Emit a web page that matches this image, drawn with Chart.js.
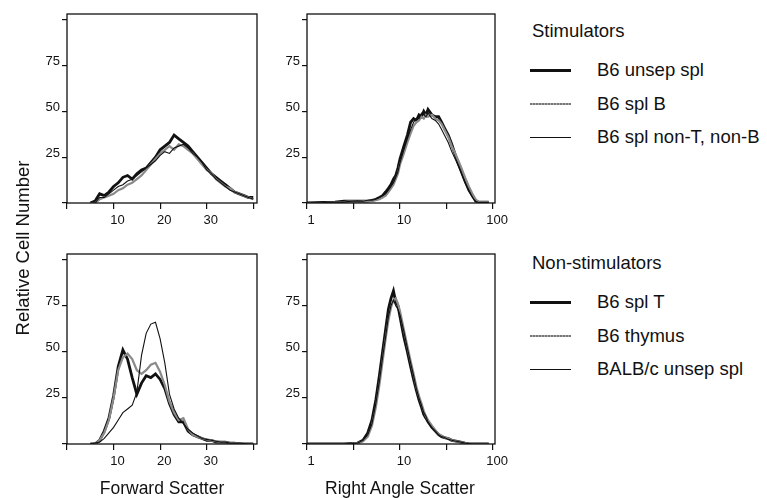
<!DOCTYPE html>
<html>
<head>
<meta charset="utf-8">
<title>Forward and right angle scatter</title>
<script src="https://cdn.jsdelivr.net/npm/chart.js@4.4.1/dist/chart.umd.min.js"></script>
<style>
  body { margin: 0; background: #fff; width: 767px; height: 498px; position: relative; overflow: hidden;
         font-family: "Liberation Sans", Arial, sans-serif; color: #111; }
  canvas { position: absolute; }
  .txt { position: absolute; white-space: nowrap; font-size: 17.5px; line-height: 20px; }
  .swatch { position: absolute; width: 41px; }
</style>
</head>
<body>
<script>
// channels (x values) of the histograms
const fscChannels = [5, 6, 7, 8, 9, 10, 11, 12, 13, 14, 15, 16, 17, 18, 19, 20, 21, 22, 23, 24,
                     25, 26, 27, 28, 29, 30, 31, 32, 33, 34, 35, 36, 37, 38, 39, 40];
const rasChannels = [1, 1.5, 2, 2.5, 3, 3.5, 4, 4.5, 5, 5.5, 6, 6.5, 7, 7.5, 8, 8.5, 9, 9.5, 10,
                     11, 12, 13, 14, 15, 16, 17, 18, 19, 20, 22, 24, 26, 28, 30,
                     33, 36, 40, 45, 50, 55, 60, 65, 70, 80, 90];

// ticks
const countTicks = [0, 25, 50, 75, 100];
const countLabels = [25, 50, 75];
const fscTicks = [0, 10, 20, 30, 40];
const fscLabels = [10, 20, 30];
const rasTicks = [1, 3.16, 10, 31.6, 100];
const rasLabels = [1, 10, 100];

// legend names
const stimNames = ['B6 unsep spl', 'B6 spl B', 'B6 spl non-T, non-B'];
const nonStimNames = ['B6 spl T', 'B6 thymus', 'BALB/c unsep spl'];

// stimulators, forward scatter
const fscUnsepSpl = [0, 1, 5, 4, 6, 9, 11, 14, 15, 13, 16, 18, 19, 22, 25, 29, 31, 33, 37, 35,
                     33, 31, 28, 25, 22, 19, 16, 14, 12, 10, 8, 6, 5, 4, 3, 3];
const fscSplB = [0, 0, 2, 3, 4, 5, 7, 8, 10, 11, 13, 15, 18, 21, 24, 27, 29, 31, 29, 32,
                 31, 29, 27, 24, 21, 18, 16, 13, 11, 9, 8, 6, 5, 4, 3, 2];
const fscNonTNonB = [0, 0, 3, 3, 5, 7, 9, 10, 12, 13, 15, 17, 19, 21, 23, 26, 28, 27, 30, 31,
                     32, 30, 27, 25, 22, 18, 16, 13, 11, 9, 7, 6, 5, 4, 3, 2];

// non-stimulators, forward scatter
const fscSplT = [0, 0, 2, 7, 14, 26, 42, 51, 46, 36, 27, 33, 37, 36, 38, 35, 30, 22, 16, 12,
                 12, 7, 5, 4, 3, 2, 2, 1, 1, 1, 0.5, 0.5, 0, 0, 0, 0];
const fscThymus = [0, 0, 2, 6, 13, 25, 40, 47, 49, 46, 40, 38, 40, 43, 44, 39, 32, 23, 17, 13,
                   14, 8, 5, 4, 3, 2.5, 2, 1.5, 1, 1, 0.5, 0.5, 0.5, 0, 0, 0];
const fscBalbc = [0, 0.5, 1, 3, 6, 9, 13, 17, 19, 21, 28, 48, 60, 65, 66, 57, 44, 27, 19, 14,
                  11, 8, 6, 4.5, 3, 2.5, 2, 1.5, 1, 1, 0.5, 0.5, 0.5, 0.3, 0, 0];

// stimulators, right angle scatter
const rasUnsepSpl = [0, 0.3, 0.5, 1, 1, 1, 1, 1, 1.5, 2, 3, 4, 6, 8, 10, 13, 15, 19, 24,
                     31, 37, 44, 46, 45, 48, 47, 50, 48, 51, 48, 47, 47, 44, 41,
                     37, 32, 25, 18, 12, 7, 4, 1, 0.5, 0.5, 0.5];
const rasSplB = [0, 0, 0.3, 0.5, 1, 0.8, 1, 1, 1, 1.5, 2, 3, 4, 6, 8, 10, 13, 16, 21,
                 27, 33, 38, 42, 44, 45, 47, 46, 48, 47, 48, 46, 45, 43, 40,
                 36, 31, 26, 20, 14, 9, 5, 2, 0.5, 0.3, 0.3];
const rasNonTNonB = [0, 0.2, 0.5, 0.5, 1, 1, 1, 1.5, 1.5, 2, 3, 4, 5, 7, 9, 11, 14, 17, 22,
                     29, 35, 40, 44, 46, 46, 49, 48, 47, 49, 46, 45, 43, 40, 37,
                     33, 28, 23, 17, 11, 7, 3, 1, 0.3, 0.3, 0.3];

// non-stimulators, right angle scatter
const rasSplT = [0, 0, 0, 0, 0.3, 0.5, 2, 6, 13, 24, 37, 50, 62, 73, 79, 83, 77, 75, 69,
                 58, 50, 42, 35, 29, 24, 20, 16, 14, 12, 9, 7, 5, 4, 3.5,
                 3, 2, 1.5, 1, 0.5, 0.2, 0, 0, 0, 0, 0];
const rasThymus = [0, 0, 0, 0, 0.2, 0.5, 1.5, 4, 10, 20, 32, 45, 57, 67, 74, 78, 79, 76, 72,
                   62, 53, 45, 38, 31, 26, 22, 18, 15, 13, 10, 7.5, 5.5, 4.5, 3.5,
                   3, 2, 1.5, 1, 0.5, 0.2, 0, 0, 0, 0, 0];
const rasBalbc = [0, 0, 0, 0, 0.2, 0.5, 2, 5, 11, 22, 34, 47, 58, 69, 75, 78, 75, 73, 70,
                  61, 52, 44, 37, 30, 25, 21, 17, 15, 12, 9, 7, 5, 4, 3.5,
                  2.5, 2, 1.5, 1, 0.5, 0.2, 0, 0, 0, 0, 0];

const ink = '#111';
const fontFamily = '"Liberation Sans", Arial, sans-serif';
const lineStyles = [
  { color: '#111', width: 2.8, swatch: 3, order: 3 },
  { color: '#8a8a8a', width: 2.2, swatch: 2, order: 2 },
  { color: '#111', width: 1.1, swatch: 1, order: 1 }
];

const framePlugin = {
  id: 'frame',
  afterDraw(chart) {
    const { ctx, chartArea: a } = chart;
    ctx.save();
    ctx.strokeStyle = ink;
    ctx.lineWidth = 1.3;
    ctx.strokeRect(a.left, a.top, a.right - a.left, a.bottom - a.top);
    ctx.restore();
  }
};

function toPoints(xs, ys) {
  return xs.map((x, i) => ({ x: x, y: ys[i] }));
}

function makeDatasets(xs, seriesList, names) {
  return seriesList.map((ys, i) => ({
    label: names[i],
    data: toPoints(xs, ys),
    borderColor: lineStyles[i].color,
    borderWidth: lineStyles[i].width,
    order: lineStyles[i].order,
    pointRadius: 0,
    tension: 0,
    fill: false
  }));
}

function tickAxis(tickValues, labelValues, extra) {
  return Object.assign({
    afterBuildTicks: ax => { ax.ticks = tickValues.map(v => ({ value: v })); },
    grid: { drawOnChartArea: false, tickLength: 5, color: ink, lineWidth: 1.2 },
    border: { display: false },
    ticks: {
      autoSkip: false,
      maxRotation: 0,
      color: ink,
      font: { size: 13, family: fontFamily },
      callback: v => labelValues.includes(v) ? String(v) : ''
    }
  }, extra);
}

function makePanel(box, xType, xMin, xMax, xTicks, xLabels, datasets) {
  const canvas = document.createElement('canvas');
  const w = (box.right - box.left) + 65;
  const h = (box.bottom - box.top) + 49;
  canvas.width = w;
  canvas.height = h;
  canvas.style.left = (box.left - 50) + 'px';
  canvas.style.top = (box.top - 14) + 'px';
  document.body.appendChild(canvas);

  const xAxis = tickAxis(xTicks, xLabels, { type: xType, min: xMin, max: xMax, afterFit: ax => { ax.height = 35; } });
  xAxis.grid.tickLength = 6;
  xAxis.ticks.padding = 4;
  xAxis.ticks.labelOffset = 4;

  const yAxis = tickAxis(countTicks, countLabels, { type: 'linear', min: 0, max: 103, afterFit: ax => { ax.width = 50; } });
  yAxis.ticks.padding = 2;
  yAxis.ticks.labelOffset = -4;

  new Chart(canvas, {
    type: 'line',
    data: { datasets: datasets },
    options: {
      responsive: false,
      animation: false,
      devicePixelRatio: 1,
      layout: { padding: { top: 14, left: 0, right: 15, bottom: 0 } },
      plugins: { legend: { display: false }, tooltip: { enabled: false } },
      scales: { x: xAxis, y: yAxis }
    },
    plugins: [framePlugin]
  });
}

makePanel({ left: 67, top: 14, right: 257, bottom: 203 }, 'linear', 0, 40.8, fscTicks, fscLabels,
  makeDatasets(fscChannels, [fscUnsepSpl, fscSplB, fscNonTNonB], stimNames));
makePanel({ left: 307, top: 14, right: 495, bottom: 203 }, 'logarithmic', 1, 105, rasTicks, rasLabels,
  makeDatasets(rasChannels, [rasUnsepSpl, rasSplB, rasNonTNonB], stimNames));
makePanel({ left: 67, top: 254, right: 257, bottom: 444 }, 'linear', 0, 40.8, fscTicks, fscLabels,
  makeDatasets(fscChannels, [fscSplT, fscThymus, fscBalbc], nonStimNames));
makePanel({ left: 307, top: 254, right: 495, bottom: 444 }, 'logarithmic', 1, 105, rasTicks, rasLabels,
  makeDatasets(rasChannels, [rasSplT, rasThymus, rasBalbc], nonStimNames));

// axis titles
function addText(str, left, top, css) {
  const d = document.createElement('div');
  d.className = 'txt';
  d.textContent = str;
  d.style.left = left + 'px';
  d.style.top = top + 'px';
  Object.assign(d.style, css || {});
  document.body.appendChild(d);
  return d;
}

addText('Relative Cell Number', 23 - 110, 248 - 10,
  { width: '220px', textAlign: 'center', transform: 'rotate(-90deg)', fontSize: '18.5px' });
addText('Forward Scatter', 162 - 100, 478, { width: '200px', textAlign: 'center' });
addText('Right Angle Scatter', 400 - 100, 478, { width: '200px', textAlign: 'center' });

// legends
function addLegend(title, names, titleY, rowYs) {
  addText(title, 532, titleY - 10, { fontSize: '18.5px' });
  names.forEach((name, i) => {
    const st = lineStyles[i];
    const s = document.createElement('div');
    s.className = 'swatch';
    s.style.left = '530px';
    s.style.top = Math.round(rowYs[i] - st.swatch / 2) + 'px';
    s.style.height = st.swatch + 'px';
    s.style.background = i === 1
      ? 'repeating-linear-gradient(90deg, #777 0 2px, #aaa 2px 3px)'
      : st.color;
    document.body.appendChild(s);
    addText(name, 597, rowYs[i] - 10, { fontSize: '18.5px' });
  });
}

addLegend('Stimulators', stimNames, 31, [70, 104, 137]);
addLegend('Non-stimulators', nonStimNames, 263, [302, 336, 369]);
</script>
</body>
</html>
